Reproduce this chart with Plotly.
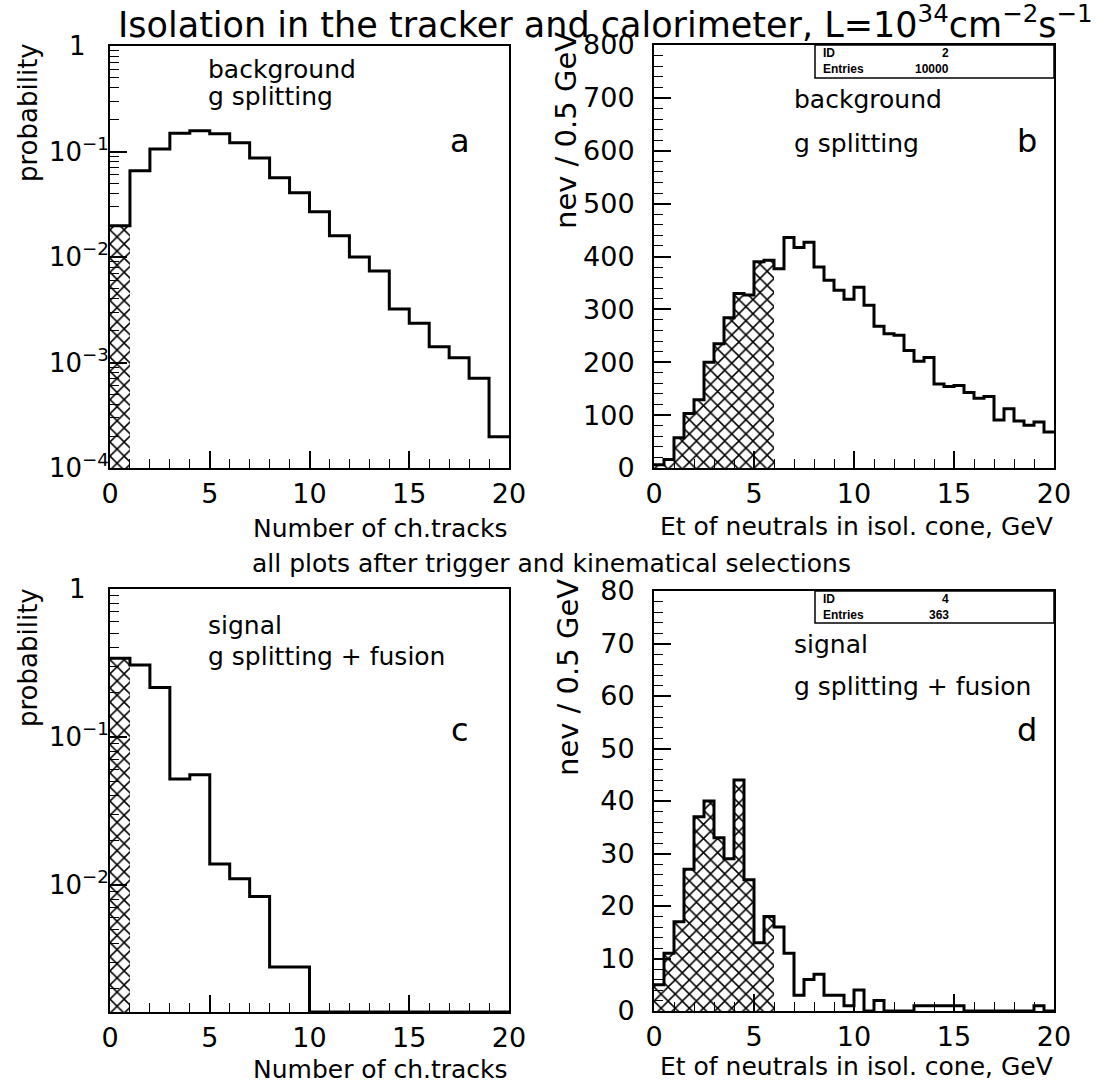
import numpy as np
import plotly.graph_objects as go

# ---------------- data ----------------
# panel a: background, number of charged tracks (probability), bins of width 1 from 0 to 20
a_edges = list(range(0, 21))
a_prob = [0.0198, 0.0658, 0.1056, 0.149, 0.157, 0.147, 0.121, 0.0868, 0.0564, 0.0407,
          0.0269, 0.0159, 0.0100, 0.00736, 0.00321, 0.00235, 0.00141, 0.00111, 0.00071, 0.000198]
a_hatch_bins = 1

# panel b: background, Et of neutrals (nev / 0.5 GeV), 40 bins 0..20
b_counts = [6, 16, 57, 103, 129, 200, 235, 284, 330, 327,
            390, 393, 377, 436, 417, 427, 380, 355, 336, 319,
            342, 308, 268, 254, 251, 222, 202, 209, 159, 154,
            156, 143, 132, 135, 91, 112, 89, 81, 87, 68]
b_hatch_bins = 12
b_id, b_entries = "2", "10000"

# panel c: signal, number of charged tracks (probability)
c_prob = [0.340, 0.306, 0.216, 0.052, 0.0554, 0.0138, 0.0110, 0.00834, 0.00278, 0.00278,
          0, 0, 0, 0, 0, 0, 0, 0, 0, 0]
c_hatch_bins = 1

# panel d: signal, Et of neutrals
d_counts = [5, 11, 17, 27, 37, 40, 33, 29, 44, 25,
            13, 18, 16, 11, 3, 6, 7, 3, 3, 1,
            4, 0, 2, 0, 0, 0, 1, 1, 1, 1,
            1, 0, 0, 0, 0, 0, 0, 0, 1, 0]
d_hatch_bins = 12
d_id, d_entries = "4", "363"

et_edges = [i * 0.5 for i in range(41)]

log_exponents = [-4, -3, -2, -1, 0]

title_text = "Isolation in the tracker and calorimeter, L=10<sup>34</sup>cm<sup>−2</sup>s<sup>−1</sup>"
mid_text = "all plots after trigger and kinematical selections"

# ---------------- layout helpers ----------------
W, H = 1108, 1086
FONT = "DejaVu Sans"


def px(x):
    return x / W


def py(y):
    return 1 - y / H


fig = go.Figure()

panels = {
    "a": dict(x=(110, 509), y=(46, 468)),
    "b": dict(x=(654, 1054), y=(45, 468)),
    "c": dict(x=(110, 509), y=(589, 1012)),
    "d": dict(x=(654, 1054), y=(591, 1011)),
}

hatch = dict(shape="x", fgcolor="black", bgcolor="white", size=10, solidity=0.28, fillmode="replace")


def add_hist(edges, vals, nh, xa, ya, floor=None):
    edges = np.asarray(edges, float)
    vals = np.asarray(vals, float)
    if floor is not None:
        vals = np.where(vals > floor, vals, floor)
    centers = (edges[:-1] + edges[1:]) / 2
    widths = edges[1:] - edges[:-1]
    fig.add_trace(go.Bar(x=centers[:nh], y=vals[:nh], width=widths[:nh],
                         marker=dict(color="white", line=dict(width=0), pattern=hatch),
                         xaxis=xa, yaxis=ya, showlegend=False, hoverinfo="skip"))
    fig.add_trace(go.Scatter(x=edges, y=np.append(vals, vals[-1]), mode="lines",
                             line=dict(color="black", width=3, shape="hv"),
                             xaxis=xa, yaxis=ya, showlegend=False, hoverinfo="skip"))


c_floor = 10 ** -2.86
add_hist(a_edges, a_prob, a_hatch_bins, "x", "y")
add_hist(et_edges, b_counts, b_hatch_bins, "x2", "y2")
add_hist(a_edges, c_prob, c_hatch_bins, "x3", "y3", floor=c_floor)
add_hist(et_edges, d_counts, d_hatch_bins, "x4", "y4")

tickfont = dict(family=FONT, size=27, color="black")


def xaxis_cfg(p, anchor):
    return dict(domain=[px(p["x"][0]), px(p["x"][1])], range=[0, 20], anchor=anchor,
                showline=True, mirror=True, linecolor="black", linewidth=2,
                ticks="inside", ticklen=17, tickwidth=1.5, tickcolor="black",
                tick0=0, dtick=5, tickfont=tickfont, ticklabelstandoff=1,
                minor=dict(ticks="inside", ticklen=9, tickwidth=1.2, tickcolor="black", dtick=1),
                showgrid=False, zeroline=False, fixedrange=True, automargin=False)


def yaxis_log_cfg(p, rng, anchor):
    minor_vals = [k * 10.0 ** e for e in range(-5, 1) for k in range(2, 10)]
    tv = [10.0 ** e for e in log_exponents]
    tt = ["1<sup>\u00a0\u00a0\u00a0\u00a0</sup>" if e == 0 else "10<sup>−%d</sup>" % (-e)
          for e in log_exponents]
    return dict(domain=[py(p["y"][1]), py(p["y"][0])], type="log", range=rng,
                anchor=anchor,
                showline=True, mirror=True, linecolor="black", linewidth=2,
                ticks="inside", ticklen=17, tickwidth=1.5, tickcolor="black",
                tickmode="array", tickvals=tv, ticktext=tt,
                tickfont=dict(family=FONT, size=26, color="black"), ticklabelstandoff=-6,
                minor=dict(ticks="inside", ticklen=9, tickwidth=1.2, tickcolor="black",
                           tickvals=minor_vals),
                showgrid=False, zeroline=False, fixedrange=True, automargin=False)


def yaxis_lin_cfg(p, top, major, minor, anchor):
    return dict(domain=[py(p["y"][1]), py(p["y"][0])], range=[0, top], anchor=anchor,
                showline=True, mirror=True, linecolor="black", linewidth=2,
                ticks="inside", ticklen=17, tickwidth=1.5, tickcolor="black",
                tick0=0, dtick=major, tickfont=tickfont, ticklabelstandoff=12,
                minor=dict(ticks="inside", ticklen=9, tickwidth=1.2, tickcolor="black", dtick=minor),
                showgrid=False, zeroline=False, fixedrange=True, automargin=False)


fig.update_layout(
    width=W, height=H, margin=dict(l=0, r=0, t=0, b=0, pad=0, autoexpand=False),
    paper_bgcolor="white", plot_bgcolor="white",
    bargap=0, barmode="overlay", showlegend=False,
    font=dict(family=FONT, color="black"),
    xaxis=xaxis_cfg(panels["a"], "y"),
    xaxis2=xaxis_cfg(panels["b"], "y2"),
    xaxis3=xaxis_cfg(panels["c"], "y3"),
    xaxis4=xaxis_cfg(panels["d"], "y4"),
    yaxis=yaxis_log_cfg(panels["a"], [-4, 0], "x"),
    yaxis2=yaxis_lin_cfg(panels["b"], 800, 100, 20, "x2"),
    yaxis3=yaxis_log_cfg(panels["c"], [np.log10(c_floor), 0], "x3"),
    yaxis4=yaxis_lin_cfg(panels["d"], 80, 10, 2, "x4"),
)

ann = []


def text(x, y, s, size, xanchor="left", yanchor="middle", angle=0, family=FONT):
    ann.append(dict(x=px(x), y=py(y), xref="paper", yref="paper", text=s, showarrow=False,
                    xanchor=xanchor, yanchor=yanchor, textangle=angle, borderpad=0,
                    font=dict(family=family, size=size, color="black")))


text(605, 22, title_text, 35, xanchor="center")
text(551, 563, mid_text, 25, xanchor="center")

# panel texts
text(207, 70, "background", 25)
text(207, 96, "g splitting", 25)
text(460, 141, "a", 32, xanchor="center")
text(793, 100, "background", 25)
text(793, 143, "g splitting", 25)
text(1027, 141, "b", 32, xanchor="center")
text(207, 625, "signal", 25)
text(207, 656, "g splitting + fusion", 25)
text(460, 730, "c", 32, xanchor="center")
text(793, 644, "signal", 25)
text(793, 686, "g splitting + fusion", 25)
text(1027, 730, "d", 32, xanchor="center")

# axis titles
text(509, 528, "Number of ch.tracks", 25, xanchor="right")
text(509, 1069, "Number of ch.tracks", 25, xanchor="right")
text(1054, 526, "Et of neutrals in isol. cone, GeV", 25, xanchor="right")
text(1054, 1066, "Et of neutrals in isol. cone, GeV", 25, xanchor="right")
text(28, 113, "probability", 26, xanchor="center", angle=-90)
text(28, 658, "probability", 26, xanchor="center", angle=-90)
text(566, 131, "nev / 0.5 GeV", 29, xanchor="center", angle=-90)
text(568, 678, "nev / 0.5 GeV", 29, xanchor="center", angle=-90)

# stat boxes
shapes = []
for (y0, y1, sid, sent) in [(45, 78, b_id, b_entries), (591, 623, d_id, d_entries)]:
    shapes.append(dict(type="rect", xref="paper", yref="paper", x0=px(815), x1=px(1054),
                       y0=py(y1), y1=py(y0), line=dict(color="black", width=1.5),
                       fillcolor="rgba(0,0,0,0)"))
    text(822, y0 + 8, "<b>ID</b>", 12, family="Liberation Sans")
    text(950, y0 + 8, "<b>" + sid + "</b>", 12, xanchor="right", family="Liberation Sans")
    text(822, y0 + 24, "<b>Entries</b>", 12, family="Liberation Sans")
    text(950, y0 + 24, "<b>" + sent + "</b>", 12, xanchor="right", family="Liberation Sans")

fig.update_layout(annotations=ann, shapes=shapes)
fig.write_html("out.html")
